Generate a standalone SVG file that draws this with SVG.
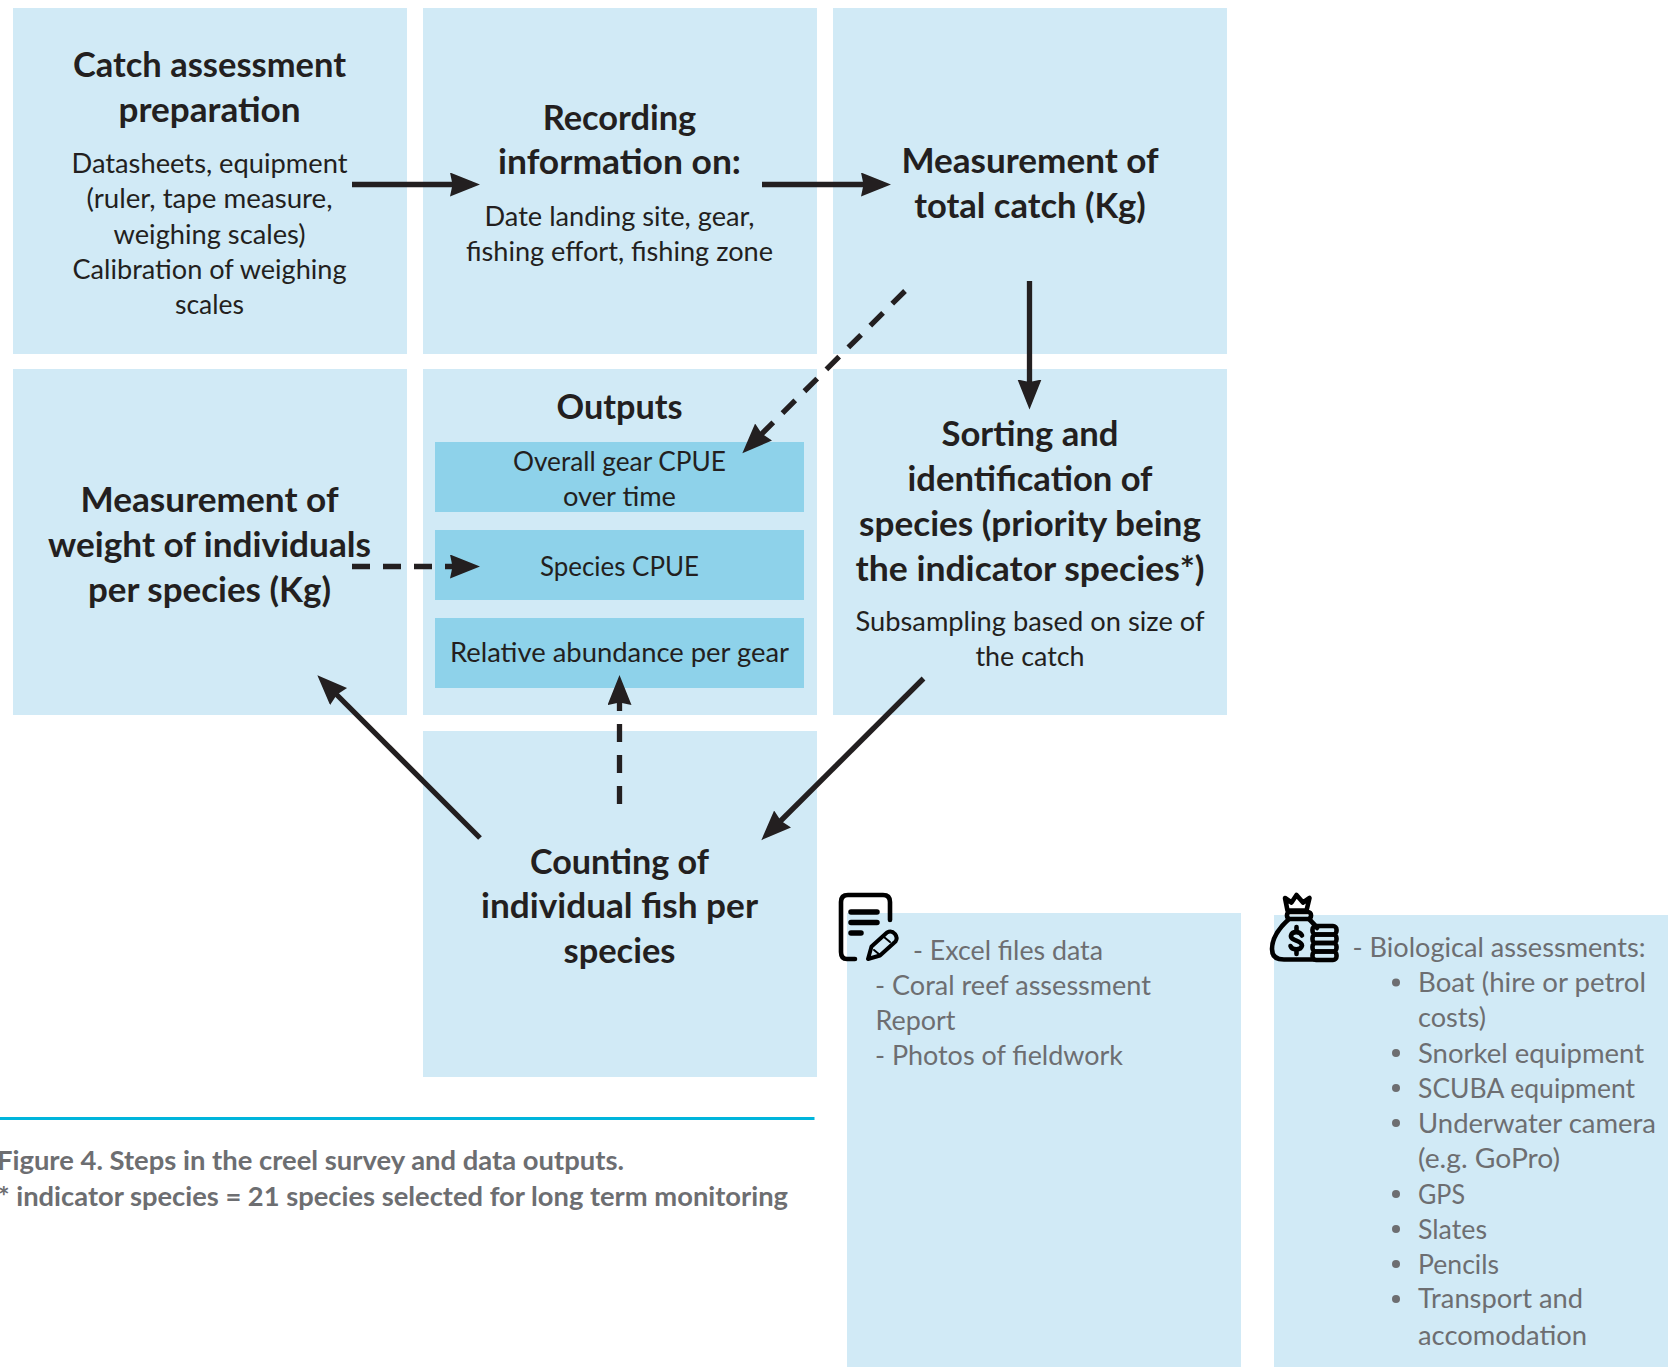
<svg xmlns="http://www.w3.org/2000/svg" width="1672" height="1367" viewBox="0 0 1672 1367">
<style>
.box{fill:#d1eaf6}
.inner{fill:#8ed2ea}
text{font-family:"Lato","Carlito","Liberation Sans",sans-serif;white-space:pre}
.h{font-size:34.5px;font-weight:700;fill:#231f20;text-anchor:middle}
.b{font-size:27px;fill:#231f20;text-anchor:middle}
.g{font-size:27px;fill:#6d6e71}
.c{font-size:27px;font-weight:700;fill:#6d6e71}
.dot{fill:#6d6e71}
.ln{stroke:#231f20;stroke-width:5.300;fill:none;marker-end:url(#ah)}
.d{stroke-dasharray:18 13}
.ic{fill:none;stroke:#000;stroke-width:4.600;stroke-linecap:round;stroke-linejoin:round}
</style>
<defs>
<marker id="ah" markerUnits="userSpaceOnUse" markerWidth="32" markerHeight="26" refX="22" refY="12" orient="auto">
<path d="M0 0L30 12L0 24L2.500 12Z" fill="#231f20"/>
</marker>
</defs>
<rect width="1672" height="1367" fill="#fff"/>
<g id="node-preparation">
<rect class="box" x="13" y="8" width="394" height="346"/>
<text class="h" x="209.500" y="77" textLength="273" lengthAdjust="spacingAndGlyphs">Catch assessment</text>
<text class="h" x="209.500" y="122" textLength="182" lengthAdjust="spacingAndGlyphs">preparation</text>
<text class="b" x="209.500" y="173" textLength="276" lengthAdjust="spacingAndGlyphs">Datasheets, equipment</text>
<text class="b" x="209.500" y="208" textLength="246" lengthAdjust="spacingAndGlyphs">(ruler, tape measure,</text>
<text class="b" x="209.500" y="244" textLength="192" lengthAdjust="spacingAndGlyphs">weighing scales)</text>
<text class="b" x="209.500" y="279" textLength="274" lengthAdjust="spacingAndGlyphs">Calibration of weighing</text>
<text class="b" x="209.500" y="314" textLength="69" lengthAdjust="spacingAndGlyphs">scales</text>
</g>
<g id="node-recording">
<rect class="box" x="423" y="8" width="394" height="346"/>
<text class="h" x="619.500" y="129.500" textLength="153.500" lengthAdjust="spacingAndGlyphs">Recording</text>
<text class="h" x="619.500" y="174" textLength="243" lengthAdjust="spacingAndGlyphs">information on:</text>
<text class="b" x="619.500" y="226" textLength="270" lengthAdjust="spacingAndGlyphs">Date landing site, gear,</text>
<text class="b" x="619.500" y="261" textLength="307" lengthAdjust="spacingAndGlyphs">fishing effort, fishing zone</text>
</g>
<g id="node-total-catch">
<rect class="box" x="833" y="8" width="394" height="346"/>
<text class="h" x="1030" y="173" textLength="257" lengthAdjust="spacingAndGlyphs">Measurement of</text>
<text class="h" x="1030" y="218" textLength="231.500" lengthAdjust="spacingAndGlyphs">total catch (Kg)</text>
</g>
<g id="node-weight">
<rect class="box" x="13" y="369" width="394" height="346"/>
<text class="h" x="209.500" y="511.500" textLength="258" lengthAdjust="spacingAndGlyphs">Measurement of</text>
<text class="h" x="209.500" y="557" textLength="323" lengthAdjust="spacingAndGlyphs">weight of individuals</text>
<text class="h" x="209.500" y="601.500" textLength="243" lengthAdjust="spacingAndGlyphs">per species (Kg)</text>
</g>
<g id="node-outputs">
<rect class="box" x="423" y="369" width="394" height="346"/>
<text class="h" x="619.500" y="418.500" textLength="126" lengthAdjust="spacingAndGlyphs">Outputs</text>
<rect class="inner" x="435" y="442" width="369" height="70"/>
<text class="b" x="619.500" y="471" textLength="213" lengthAdjust="spacingAndGlyphs">Overall gear CPUE</text>
<text class="b" x="619.500" y="506" textLength="113" lengthAdjust="spacingAndGlyphs">over time</text>
<rect class="inner" x="435" y="530" width="369" height="70"/>
<text class="b" x="619.500" y="576" textLength="159" lengthAdjust="spacingAndGlyphs">Species CPUE</text>
<rect class="inner" x="435" y="618" width="369" height="70"/>
<text class="b" x="619.500" y="662" textLength="339" lengthAdjust="spacingAndGlyphs">Relative abundance per gear</text>
</g>
<g id="node-sorting">
<rect class="box" x="833" y="369" width="394" height="346"/>
<text class="h" x="1030" y="445.500" textLength="177" lengthAdjust="spacingAndGlyphs">Sorting and</text>
<text class="h" x="1030" y="490.500" textLength="245" lengthAdjust="spacingAndGlyphs">identification of</text>
<text class="h" x="1030" y="536" textLength="342" lengthAdjust="spacingAndGlyphs">species (priority being</text>
<text class="h" x="1030" y="581" textLength="349" lengthAdjust="spacingAndGlyphs">the indicator species*)</text>
<text class="b" x="1030" y="631" textLength="349" lengthAdjust="spacingAndGlyphs">Subsampling based on size of</text>
<text class="b" x="1030" y="666" textLength="109" lengthAdjust="spacingAndGlyphs">the catch</text>
</g>
<g id="node-counting">
<rect class="box" x="423" y="731" width="394" height="346"/>
<text class="h" x="619.500" y="874" textLength="179" lengthAdjust="spacingAndGlyphs">Counting of</text>
<text class="h" x="619.500" y="918" textLength="277" lengthAdjust="spacingAndGlyphs">individual fish per</text>
<text class="h" x="619.500" y="963" textLength="112" lengthAdjust="spacingAndGlyphs">species</text>
</g>
<g id="node-data">
<rect class="box" x="847" y="913" width="394" height="454"/>
<g class="ic">
<path d="M855 959H847Q841 959 841 952V902Q841 895 848 895H883Q890 895 890 902V920"/>
<path d="M851 912H877M851 922.500H877M851 933H861" stroke-width="5.500"/>
<path d="M868 959L871.500 946.500L887 932.500Q891.500 930 895 934Q898 938 895.500 941.500L880 955.500Z" stroke-width="4"/>
<path d="M874 950L880 955M884 937L890 942" stroke-width="2"/>
</g>
<text class="g" x="913" y="959.500" textLength="190" lengthAdjust="spacingAndGlyphs">- Excel files data</text>
<text class="g" x="875" y="994.500" textLength="276" lengthAdjust="spacingAndGlyphs">- Coral reef assessment</text>
<text class="g" x="875.500" y="1029.500" textLength="80" lengthAdjust="spacingAndGlyphs">Report</text>
<text class="g" x="875" y="1064.500" textLength="248" lengthAdjust="spacingAndGlyphs">- Photos of fieldwork</text>
</g>
<g id="node-budget">
<rect class="box" x="1274" y="915" width="394" height="452"/>
<g class="ic">
<path d="M1285 898L1291.500 902.500L1296.500 895L1303 902.500L1309.500 898L1306.500 910.500H1287.500Z"/>
<rect x="1287" y="912" width="24" height="7" rx="3"/>
<path d="M1289 919C1280 927 1272 938 1272 949C1272 957 1277 959.500 1284 959.500H1314"/>
<path d="M1309 919C1312 922 1315 925 1317 928"/>
<rect x="1312.500" y="926" width="24" height="8.500" rx="3.500"/>
<rect x="1312.500" y="934.500" width="24" height="8.500" rx="3.500"/>
<rect x="1312.500" y="943" width="24" height="8.500" rx="3.500"/>
<rect x="1312.500" y="951.500" width="24" height="8.500" rx="3.500"/>
<path d="M1302 935.500C1300 931 1292 931 1291 935.500C1290 941 1302 940 1302 945.500C1301 950.500 1292 950.500 1290.500 946"/>
<path d="M1296.500 927V931M1296.500 950V954"/>
</g>
<text class="g" x="1352.500" y="957" textLength="293" lengthAdjust="spacingAndGlyphs">- Biological assessments:</text>
<circle class="dot" cx="1396" cy="982.500" r="4"/>
<text class="g" x="1418" y="992" textLength="228" lengthAdjust="spacingAndGlyphs">Boat (hire or petrol</text>
<text class="g" x="1418" y="1027" textLength="68" lengthAdjust="spacingAndGlyphs">costs)</text>
<circle class="dot" cx="1396" cy="1053" r="4"/>
<text class="g" x="1418" y="1062.500" textLength="226" lengthAdjust="spacingAndGlyphs">Snorkel equipment</text>
<circle class="dot" cx="1396" cy="1088" r="4"/>
<text class="g" x="1418" y="1097.500" textLength="217" lengthAdjust="spacingAndGlyphs">SCUBA equipment</text>
<circle class="dot" cx="1396" cy="1123" r="4"/>
<text class="g" x="1418" y="1132.500" textLength="238" lengthAdjust="spacingAndGlyphs">Underwater camera</text>
<text class="g" x="1418" y="1167.500" textLength="142" lengthAdjust="spacingAndGlyphs">(e.g. GoPro)</text>
<circle class="dot" cx="1396" cy="1194" r="4"/>
<text class="g" x="1418" y="1203.500" textLength="47" lengthAdjust="spacingAndGlyphs">GPS</text>
<circle class="dot" cx="1396" cy="1229" r="4"/>
<text class="g" x="1418" y="1238.500" textLength="69" lengthAdjust="spacingAndGlyphs">Slates</text>
<circle class="dot" cx="1396" cy="1264" r="4"/>
<text class="g" x="1418" y="1273.500" textLength="81" lengthAdjust="spacingAndGlyphs">Pencils</text>
<circle class="dot" cx="1396" cy="1299" r="4"/>
<text class="g" x="1418" y="1308" textLength="165" lengthAdjust="spacingAndGlyphs">Transport and</text>
<text class="g" x="1418" y="1344.500" textLength="169" lengthAdjust="spacingAndGlyphs">accomodation</text>
</g>
<g id="caption">
<rect x="0" y="1117" width="814.500" height="3" fill="#00b5dc"/>
<text class="c" x="-3" y="1169.500" textLength="627" lengthAdjust="spacingAndGlyphs">Figure 4. Steps in the creel survey and data outputs.</text>
<text class="c" x="-2" y="1205.500" textLength="790" lengthAdjust="spacingAndGlyphs">* indicator species = 21 species selected for long term monitoring</text>
</g>
<g id="connectors">
<line class="ln" x1="352" y1="184.500" x2="472" y2="184.500"/>
<line class="ln" x1="762" y1="184.500" x2="883" y2="184.500"/>
<line class="ln" x1="1029.500" y1="281" x2="1029.500" y2="401.500"/>
<line class="ln d" x1="905" y1="291" x2="748" y2="447.500"/>
<line class="ln d" x1="352" y1="566.500" x2="472" y2="566.500"/>
<line class="ln d" x1="619.500" y1="804" x2="619.500" y2="683"/>
<line class="ln" x1="480" y1="838" x2="323" y2="681"/>
<line class="ln" x1="923.500" y1="678.500" x2="767" y2="834.500"/>
</g>
</svg>
